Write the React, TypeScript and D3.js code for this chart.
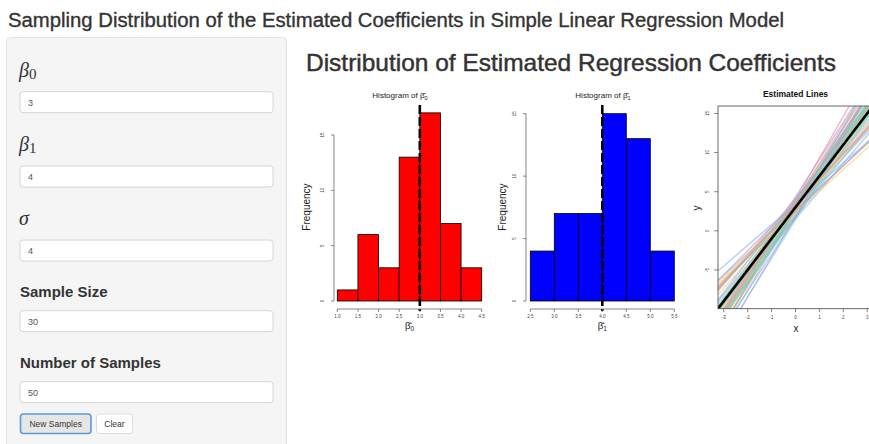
import React from "react";
import * as d3 from "d3";

const pageTitle = "Sampling Distribution of the Estimated Coefficients in Simple Linear Regression Model";
const panelTitle = "Distribution of Estimated Regression Coefficients";

// 50 simulated estimates
const beta0Hat = [3.04, 2.53, 1.56, 3.27, 3.62, 2.88, 3.15, 4.13, 2.67, 3.42, 1.71, 2.18, 3.09, 2.95, 3.85, 3.33, 2.72, 1.37, 3.21, 2.59, 3.54, 3.48, 1.83, 2.81, 3.12, 4.36, 2.99, 3.38, 2.44, 3.77, 1.64, 3.01, 2.64, 3.25, 2.76, 3.93, 3.44, 1.92, 2.91, 3.18, 2.31, 3.69, 3.31, 2.57, 4.05, 3.07, 1.78, 2.85, 3.58, 3.36];
const beta1Hat = [4.11, 4.56, 3.55, 4.26, 3.08, 4.71, 4.03, 3.63, 4.84, 2.64, 4.18, 4.33, 5.08, 3.21, 4.63, 4.07, 2.81, 4.92, 3.78, 4.41, 3.36, 4.58, 4.22, 5.21, 3.86, 4.77, 3.44, 4.48, 2.93, 4.15, 4.66, 3.92, 4.37, 3.15, 4.88, 5.36, 4.29, 3.71, 4.53, 4.02, 2.77, 4.95, 3.29, 4.44, 3.97, 4.74, 5.13, 4.19, 3.47, 4.61];

const beta0Breaks = [1.0, 1.5, 2.0, 2.5, 3.0, 3.5, 4.0, 4.5];
const beta1Breaks = [2.5, 3.0, 3.5, 4.0, 4.5, 5.0, 5.5];
const freqTicks = [0, 5, 10, 15];
const lineXTicks = [-3, -2, -1, 0, 1, 2, 3];
const lineYTicks = [-5, 0, 5, 10, 15];
const lineXRange = [-3, 3];
const lineYRange = [-9, 15];
const trueBeta0 = 3;
const trueBeta1 = 4;
const lineColors = ["#E8899A", "#8FD97F", "#7DB8EE", "#6FE3E5", "#C98BD6", "#E9D36A", "#B5B5B5"];

const inputLabels = ["β0", "β1", "σ", "Sample Size", "Number of Samples"];
const inputValues = ["3", "4", "4", "30", "50"];
const buttonLabels = ["New Samples", "Clear"];

const HAT_BETA = "β\u0302";
const FONT = "'Liberation Sans', Arial, Helvetica, sans-serif";
const SERIF = "'Liberation Serif', 'Times New Roman', serif";

function Histogram({ samples, breaks, trueVal, fill, sub, px, py, axisX, titleX, freqX }: any) {
  const x = d3.scaleLinear().domain([breaks[0], breaks[breaks.length - 1]]).range(px);
  const y = d3.scaleLinear().domain([0, 15]).range(py);
  const bins = d3.bin().domain(x.domain() as [number, number]).thresholds(breaks.slice(1, -1))(samples);
  const axisY = 309;
  return (
    <g fontFamily={FONT}>
      {bins.map((b, i) => (
        <rect key={i} x={x(b.x0!)} width={x(b.x1!) - x(b.x0!)} y={y(b.length)} height={y(0) - y(b.length)}
          fill={fill} stroke="#000" strokeWidth={0.8} />
      ))}
      <line x1={x(trueVal)} x2={x(trueVal)} y1={105} y2={311} stroke="#000" strokeWidth={2.6} strokeDasharray="9,3" />
      {/* y axis */}
      <line x1={axisX} x2={axisX} y1={y(0)} y2={y(15)} stroke="#555" strokeWidth={0.7} />
      {freqTicks.map((t) => (
        <g key={t}>
          <line x1={axisX - 3} x2={axisX} y1={y(t)} y2={y(t)} stroke="#555" strokeWidth={0.7} />
          <text transform={`translate(${axisX - 10},${y(t)}) rotate(-90)`} textAnchor="middle" fontSize={4.5} fill="#444">{t}</text>
        </g>
      ))}
      {/* x axis */}
      <line x1={x(breaks[0])} x2={x(breaks[breaks.length - 1])} y1={axisY} y2={axisY} stroke="#555" strokeWidth={0.7} />
      {breaks.map((t: number) => (
        <g key={t}>
          <line x1={x(t)} x2={x(t)} y1={axisY} y2={axisY + 3} stroke="#555" strokeWidth={0.7} />
          <text x={x(t)} y={axisY + 9} textAnchor="middle" fontSize={4.5} fill="#444">{d3.format(".1f")(t)}</text>
        </g>
      ))}
      <text transform={`translate(${freqX},207) rotate(-90)`} textAnchor="middle" fontSize={10} fill="#222">Frequency</text>
      <text x={titleX} y={98} fontSize={8} fill="#222" textAnchor="middle">
        Histogram of {HAT_BETA}<tspan fontSize={5.6} dy={1.8}>{sub}</tspan>
      </text>
      <text x={(px[0] + px[1]) / 2} y={328.5} fontSize={9.5} fill="#222" textAnchor="middle">
        {HAT_BETA}<tspan fontSize={6.6} dy={2}>{sub}</tspan>
      </text>
    </g>
  );
}

function EstimatedLines() {
  const ex = (lineXRange[1] - lineXRange[0]) * 0.04;
  const ey = (lineYRange[1] - lineYRange[0]) * 0.04;
  const x = d3.scaleLinear().domain([lineXRange[0] - ex, lineXRange[1] + ex]).range([718, 873]);
  const y = d3.scaleLinear().domain([lineYRange[0] - ey, lineYRange[1] + ey]).range([308.7, 106]);
  const xs = x.domain();
  const path = (b0: number, b1: number) =>
    d3.line<number>().x((d) => x(d)).y((d) => y(b0 + b1 * d))(xs) as string;
  const [top, bottom] = [y.range()[1], y.range()[0]];
  return (
    <g fontFamily={FONT}>
      <defs>
        <clipPath id="plotclip">
          <rect x={718} y={top} width={155} height={bottom - top} />
        </clipPath>
      </defs>
      <g clipPath="url(#plotclip)">
        {beta0Hat.map((b0, i) => (
          <path key={i} d={path(b0, beta1Hat[i])} fill="none" stroke={lineColors[i % lineColors.length]}
            strokeOpacity={0.6} strokeWidth={1.4} />
        ))}
        <path d={path(trueBeta0, trueBeta1)} fill="none" stroke="#000" strokeWidth={2.6} />
      </g>
      <rect x={718} y={top} width={155} height={bottom - top} fill="none" stroke="#444" strokeWidth={0.8} />
      {lineYTicks.map((t) => (
        <g key={t}>
          <line x1={714} x2={718} y1={y(t)} y2={y(t)} stroke="#555" strokeWidth={0.7} />
          <text transform={`translate(${709},${y(t)}) rotate(-90)`} textAnchor="middle" fontSize={4.5} fill="#444">{t}</text>
        </g>
      ))}
      {lineXTicks.map((t) => (
        <g key={t}>
          <line x1={x(t)} x2={x(t)} y1={bottom} y2={bottom + 3.5} stroke="#555" strokeWidth={0.7} />
          <text x={x(t)} y={bottom + 10.5} textAnchor="middle" fontSize={4.5} fill="#444">{t}</text>
        </g>
      ))}
      <text x={796} y={332} textAnchor="middle" fontSize={10} fill="#222">x</text>
      <text transform="translate(700,208) rotate(-90)" textAnchor="middle" fontSize={10} fill="#222">y</text>
      <text x={795.5} y={97} textAnchor="middle" fontSize={8.5} fontWeight="bold" fill="#111">Estimated Lines</text>
    </g>
  );
}

function Sidebar() {
  const boxTops = [91.7, 166, 240, 310.7, 381.7];
  const labelY = [77, 151.3, 225, 297, 368];
  return (
    <g>
      <rect x={6.5} y={37.5} width={280} height={430} rx={4} fill="#f5f5f5" stroke="#e3e3e3" />
      {inputLabels.map((lab, i) => {
        if (i < 3) {
          const isBeta = lab.startsWith("β");
          return (
            <text key={lab} x={19} y={labelY[i]} fontFamily={SERIF} fill="#333" fontSize={20}>
              <tspan fontStyle="italic">{isBeta ? "β" : lab}</tspan>
              {isBeta && <tspan fontSize={15} dy={2}>{lab.slice(1)}</tspan>}
            </text>
          );
        }
        return (
          <text key={lab} x={20} y={labelY[i]} fontFamily={FONT} fontWeight="bold" fontSize={15} fill="#333">{lab}</text>
        );
      })}
      {inputValues.map((v, i) => (
        <g key={i}>
          <rect x={20} y={boxTops[i]} width={253} height={21} rx={3} fill="#fff" stroke="#d6d6d6" />
          <text x={28} y={boxTops[i] + 14} fontFamily={FONT} fontSize={9} fill="#555">{v}</text>
        </g>
      ))}
      <rect x={20.5} y={414} width={70.5} height={19.5} rx={3} fill="#e6e6e6" stroke="#5b9bd5" strokeWidth={1.6} />
      <text x={55.7} y={427} textAnchor="middle" fontFamily={FONT} fontSize={8.5} fill="#333">{buttonLabels[0]}</text>
      <rect x={96.5} y={414} width={36} height={19.5} rx={3} fill="#fff" stroke="#ddd" />
      <text x={114.5} y={427} textAnchor="middle" fontFamily={FONT} fontSize={8.5} fill="#333">{buttonLabels[1]}</text>
    </g>
  );
}

export default function App() {
  return (
    <svg width={869} height={444} style={{ position: "absolute", left: 0, top: 0, background: "#fff" }}>
      <rect x={0} y={0} width={869} height={444} fill="#fff" />
      <text x={8} y={27} fontFamily={FONT} fontSize={20} fill="#333" stroke="#333" strokeWidth={0.35}
        textLength={776} lengthAdjust="spacingAndGlyphs">{pageTitle}</text>
      <Sidebar />
      <text x={306} y={71} fontFamily={FONT} fontSize={24} fill="#333" stroke="#333" strokeWidth={0.45}
        textLength={530} lengthAdjust="spacingAndGlyphs">{panelTitle}</text>
      <Histogram samples={beta0Hat} breaks={beta0Breaks} trueVal={trueBeta0} fill="#ff0000" sub="0"
        px={[337.3, 481.7]} py={[301, 135]} axisX={334} titleX={400} freqX={310} />
      <Histogram samples={beta1Hat} breaks={beta1Breaks} trueVal={trueBeta1} fill="#0000ff" sub="1"
        px={[530.3, 674.3]} py={[301, 113.7]} axisX={526} titleX={603} freqX={506} />
      <EstimatedLines />
    </svg>
  );
}
